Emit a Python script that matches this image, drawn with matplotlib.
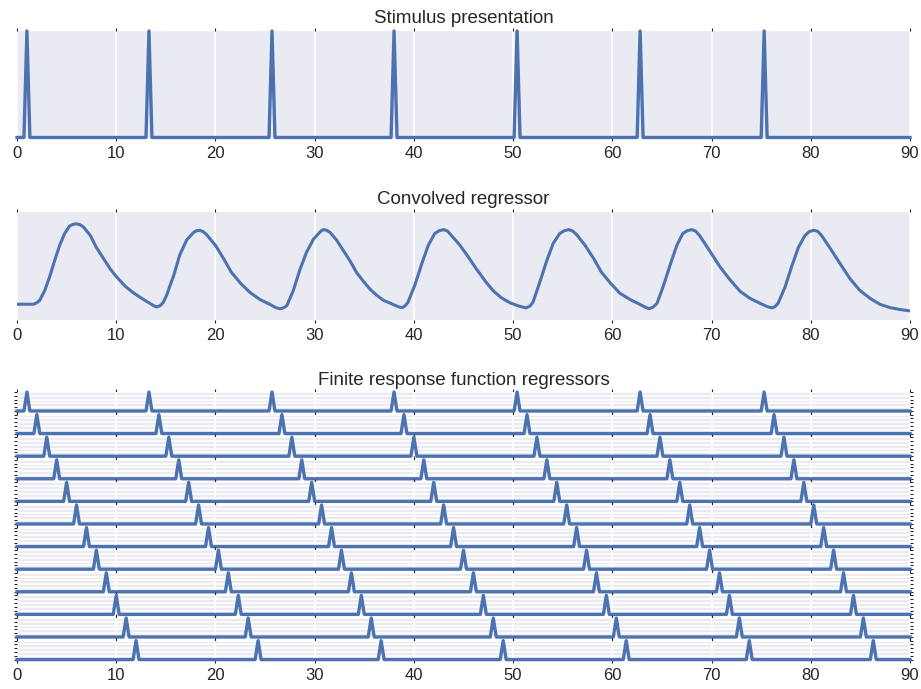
import matplotlib.pyplot as plt
import numpy as np

plt.rcParams['font.family'] = ['Liberation Sans', 'DejaVu Sans']

# stimulus onsets (s)
onsets = [1.0, 13.3, 25.7, 38.0, 50.4, 62.8, 75.3]
n_fir = 12
fir_lags = list(range(n_fir))  # lag of each FIR regressor (s)

# convolved regressor (normalised height)
conv_t = [0, 1.0, 1.65, 2.0, 2.3, 2.8, 3.3, 3.8, 4.3, 4.8, 5.3, 5.65, 6.0, 6.35, 6.7, 7.4, 8.0,
          8.7, 9.4, 10.0, 10.9, 11.7, 12.6, 13.4, 13.8, 14.1, 14.45, 14.75, 15.1, 15.4, 15.8,
          16.4, 17.1, 17.8, 18.1, 18.4, 18.75, 19.1, 20.0, 20.8, 21.6, 22.5, 23.5, 24.5, 25.5,
          26.1, 26.5, 26.85, 27.2, 27.85, 28.5, 29.2, 29.9, 30.5, 30.7, 30.9, 31.2, 31.55,
          32.2, 32.9, 33.6, 34.2, 34.9, 35.6, 36.25, 36.9, 37.9, 38.4, 38.8, 39.1, 39.4, 40.1,
          40.8, 41.45, 42.1, 42.55, 43.0, 43.4, 43.8, 44.65, 45.5, 46.3, 47.2, 48.0, 48.85,
          49.7, 50.5, 51.3, 51.7, 52.0, 52.7, 53.4, 54.05, 54.7, 55.15, 55.6, 56.0, 56.4,
          57.25, 58.1, 58.9, 59.8, 60.75, 61.8, 62.8, 63.3, 63.7, 64.1, 64.5, 65.1, 65.8,
          66.5, 67.1, 67.55, 68.0, 68.4, 68.8, 69.8, 70.85, 71.9, 72.9, 73.9, 74.9, 75.6,
          76.1, 76.4, 76.7, 77.4, 78.1, 78.75, 79.4, 79.85, 80.3, 80.7, 81.1, 81.9, 82.95,
          83.95, 84.95, 86.0, 87.0, 88.0, 89.0, 90.0]
conv_y = [0.142, 0.142, 0.142, 0.155, 0.18, 0.27, 0.40, 0.55, 0.69, 0.80, 0.87, 0.885, 0.89,
          0.882, 0.86, 0.78, 0.67, 0.57, 0.47, 0.40, 0.31, 0.25, 0.195, 0.15, 0.127, 0.117,
          0.13, 0.16, 0.23, 0.31, 0.41, 0.60, 0.74, 0.81, 0.826, 0.83, 0.818, 0.79, 0.69, 0.57,
          0.44, 0.34, 0.25, 0.185, 0.14, 0.11, 0.10, 0.108, 0.13, 0.27, 0.46, 0.63, 0.75, 0.81,
          0.828, 0.836, 0.83, 0.81, 0.74, 0.64, 0.54, 0.44, 0.356, 0.28, 0.226, 0.18, 0.14,
          0.12, 0.11, 0.125, 0.16, 0.32, 0.52, 0.69, 0.80, 0.826, 0.836, 0.822, 0.78, 0.69,
          0.58, 0.47, 0.356, 0.266, 0.20, 0.155, 0.127, 0.108, 0.125, 0.16, 0.35, 0.55, 0.71,
          0.80, 0.826, 0.836, 0.823, 0.79, 0.69, 0.57, 0.44, 0.34, 0.245, 0.185, 0.14, 0.115,
          0.10, 0.115, 0.15, 0.30, 0.50, 0.69, 0.80, 0.826, 0.836, 0.822, 0.78, 0.64, 0.49,
          0.365, 0.26, 0.195, 0.15, 0.12, 0.108, 0.12, 0.15, 0.30, 0.50, 0.67, 0.78, 0.818,
          0.83, 0.82, 0.78, 0.67, 0.52, 0.38, 0.27, 0.195, 0.14, 0.11, 0.093, 0.08]

LINE_COLOR = '#4C72B0'
BG = '#EAEAF2'
TICK_COLOR = '#262626'
halfWidth = 0.3


def spikeTrain(times, tmax=90.0):
    xs, ys = [0.0], [0.0]
    for t in times:
        if t > tmax:
            continue
        xs += [t - halfWidth, t, t + halfWidth]
        ys += [0.0, 1.0, 0.0]
    xs.append(tmax)
    ys.append(0.0)
    return xs, ys


def styleAxes(ax):
    ax.set_facecolor(BG)
    for spine in ax.spines.values():
        spine.set_visible(False)
    ax.grid(True, color='white', linewidth=1.2)
    ax.set_axisbelow(True)
    ax.set_xlim(0, 90)
    ax.set_ylim(0, 1)
    ax.set_xticks(np.arange(0, 91, 10))
    ax.tick_params(axis='x', length=2, width=0.8, color=TICK_COLOR, top=True,
                   labelsize=12, labelcolor=TICK_COLOR, pad=4)


W, H = 921, 689
fig = plt.figure(figsize=(W / 100, H / 100), dpi=100)


def pxAxes(left, top, right, bottom):
    return fig.add_axes([left / W, 1 - bottom / H, (right - left) / W, (bottom - top) / H])


# stimulus presentation
ax1 = pxAxes(17, 31, 910, 137.5)
styleAxes(ax1)
sx, sy = spikeTrain(onsets)
ax1.plot(sx, sy, color=LINE_COLOR, linewidth=2.4, clip_on=False)
ax1.set_yticks([])
ax1.set_title('Stimulus presentation', fontsize=13.5, color=TICK_COLOR, pad=6)

# convolved regressor
ax2 = pxAxes(17, 212, 910, 319.5)
styleAxes(ax2)
ax2.plot(conv_t, conv_y, color=LINE_COLOR, linewidth=2.2, solid_joinstyle='round')
ax2.set_yticks([])
ax2.set_title('Convolved regressor', fontsize=13.5, color=TICK_COLOR, pad=6)

# FIR regressors
rowPitch = 22.6
rowHeight = 19.0
firAxes = []
for k, lag in enumerate(fir_lags):
    top = 392 + rowPitch * k
    ax = pxAxes(17, top, 910, top + rowHeight)
    styleAxes(ax)
    fx, fy = spikeTrain([o + lag for o in onsets])
    ax.plot(fx, fy, color=LINE_COLOR, linewidth=2.4, clip_on=False)
    ax.set_yticks(np.linspace(0, 1, 6))
    ax.set_yticklabels([])
    ax.tick_params(axis='y', length=2, width=0.8, color=TICK_COLOR, right=True)
    if k < n_fir - 1:
        ax.set_xticklabels([])
    firAxes.append(ax)

firAxes[0].set_title('Finite response function regressors', fontsize=13.5,
                     color=TICK_COLOR, pad=5)

fig.savefig('out.png', dpi=100)
